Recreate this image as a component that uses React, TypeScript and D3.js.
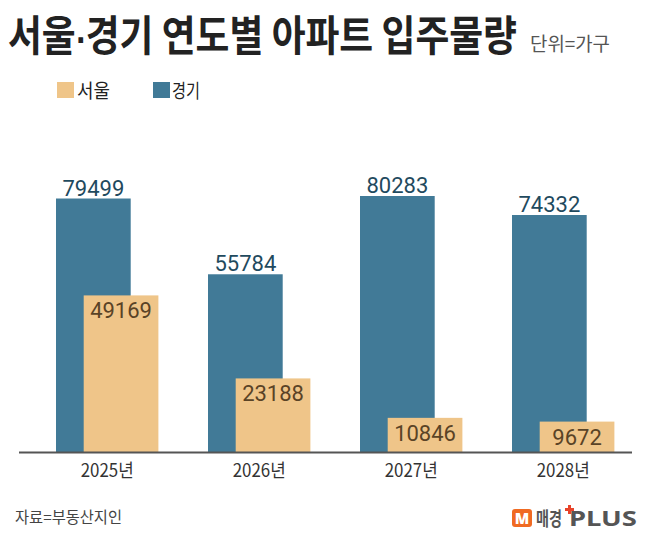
import React from "react";
import * as d3 from "d3";

const years = ["2025년", "2026년", "2027년", "2028년"];
const seoul = [49169, 23188, 10846, 9672];
const gyeonggi = [79499, 55784, 80283, 74332];
const legendLabels = ["서울", "경기"];

const BLUE = "#417a97";
const ORANGE = "#efc589";
const BLUE_TEXT = "#1f4a5e";
const ORANGE_TEXT = "#5a4326";

export default function App() {
  const W = 650;
  const H = 536;
  const baseY = 452.5;
  const y = d3.scaleLinear().domain([0, 80283]).range([baseY, 196]);
  const x = d3.scaleBand<string>().domain(years).range([31.2, 639.2]).padding(0);
  const barW = 74.7;
  const center = (d: string) => (x(d) as number) + x.bandwidth() / 2;
  const blueX = (d: string) => center(d) - 51.2;
  const orangeX = (d: string) => center(d) - 23.5;
  const numFont = "Roboto, 'Noto Sans CJK KR', sans-serif";
  const krFont = "'Noto Sans CJK KR', 'Noto Sans', sans-serif";

  return (
    <svg
      width={W}
      height={H}
      style={{ position: "absolute", left: 0, top: 0, background: "#fff" }}
    >
      <rect x={0} y={0} width={W} height={H} fill="#fff" />
      {/* Title */}
      <text
        x={8}
        y={51}
        fontFamily={krFont}
        fontWeight={700}
        fontSize={42}
        fill="#222"
        textLength={509}
        lengthAdjust="spacingAndGlyphs"
      >
        서울<tspan fontFamily="'DejaVu Sans', sans-serif" fontSize={30}>·</tspan>경기 연도별 아파트 입주물량
      </text>
      <text
        x={530}
        y={51}
        fontFamily={krFont}
        fontSize={19}
        fill="#555"
        textLength={80}
        lengthAdjust="spacingAndGlyphs"
      >
        단위=가구
      </text>

      {/* Legend */}
      <rect x={57} y={82} width={17} height={16} fill={ORANGE} />
      <text x={77} y={98} fontFamily={krFont} fontSize={19} fill="#222" textLength={33} lengthAdjust="spacingAndGlyphs">
        {legendLabels[0]}
      </text>
      <rect x={153} y={82} width={17} height={16} fill={BLUE} />
      <text x={172} y={98} fontFamily={krFont} fontSize={19} fill="#222" textLength={28} lengthAdjust="spacingAndGlyphs">
        {legendLabels[1]}
      </text>

      {/* Bars */}
      {years.map((d, i) => (
        <g key={d}>
          <rect x={blueX(d)} y={y(gyeonggi[i])} width={barW} height={baseY - y(gyeonggi[i])} fill={BLUE} />
          <rect x={orangeX(d)} y={y(seoul[i])} width={barW} height={baseY - y(seoul[i])} fill={ORANGE} />
          <text
            x={blueX(d) + barW / 2}
            y={y(gyeonggi[i]) - 3}
            textAnchor="middle"
            fontFamily={numFont}
            fontSize={22}
            fill={BLUE_TEXT}
          >
            {gyeonggi[i]}
          </text>
          <text
            x={orangeX(d) + barW / 2}
            y={y(seoul[i]) + 23}
            textAnchor="middle"
            fontFamily={numFont}
            fontSize={22}
            fill={ORANGE_TEXT}
          >
            {seoul[i]}
          </text>
          <text
            x={center(d)}
            y={477}
            textAnchor="middle"
            fontFamily={krFont}
            fontSize={18}
            fill="#333"
            textLength={53}
            lengthAdjust="spacingAndGlyphs"
          >
            {d}
          </text>
        </g>
      ))}

      {/* Axis line */}
      <line x1={19} x2={632} y1={baseY} y2={baseY} stroke="#555" strokeWidth={2} />

      {/* Source */}
      <text
        x={15}
        y={523}
        fontFamily={krFont}
        fontSize={16}
        fill="#444"
        textLength={107}
        lengthAdjust="spacingAndGlyphs"
      >
        자료=부동산지인
      </text>

      {/* Logo */}
      <rect x={512} y={509} width={20} height={18} rx={3} fill="#f06a22" />
      <text x={522} y={524} textAnchor="middle" fontFamily="'Noto Sans', sans-serif" fontWeight={900} fontSize={15} fill="#fff">
        M
      </text>
      <text
        x={536}
        y={526}
        fontFamily={krFont}
        fontWeight={700}
        fontSize={19}
        fill="#555"
        textLength={26}
        lengthAdjust="spacingAndGlyphs"
      >
        매경
      </text>
      <text
        x={569}
        y={526}
        fontFamily="'Noto Sans', sans-serif"
        fontWeight={700}
        fontSize={21}
        fill="#555"
        textLength={68}
        lengthAdjust="spacingAndGlyphs"
      >
        PLUS
      </text>
      <rect x={565} y={508} width={9} height={3} fill="#e8432a" />
      <rect x={568} y={505} width={3} height={9} fill="#e8432a" />
    </svg>
  );
}
